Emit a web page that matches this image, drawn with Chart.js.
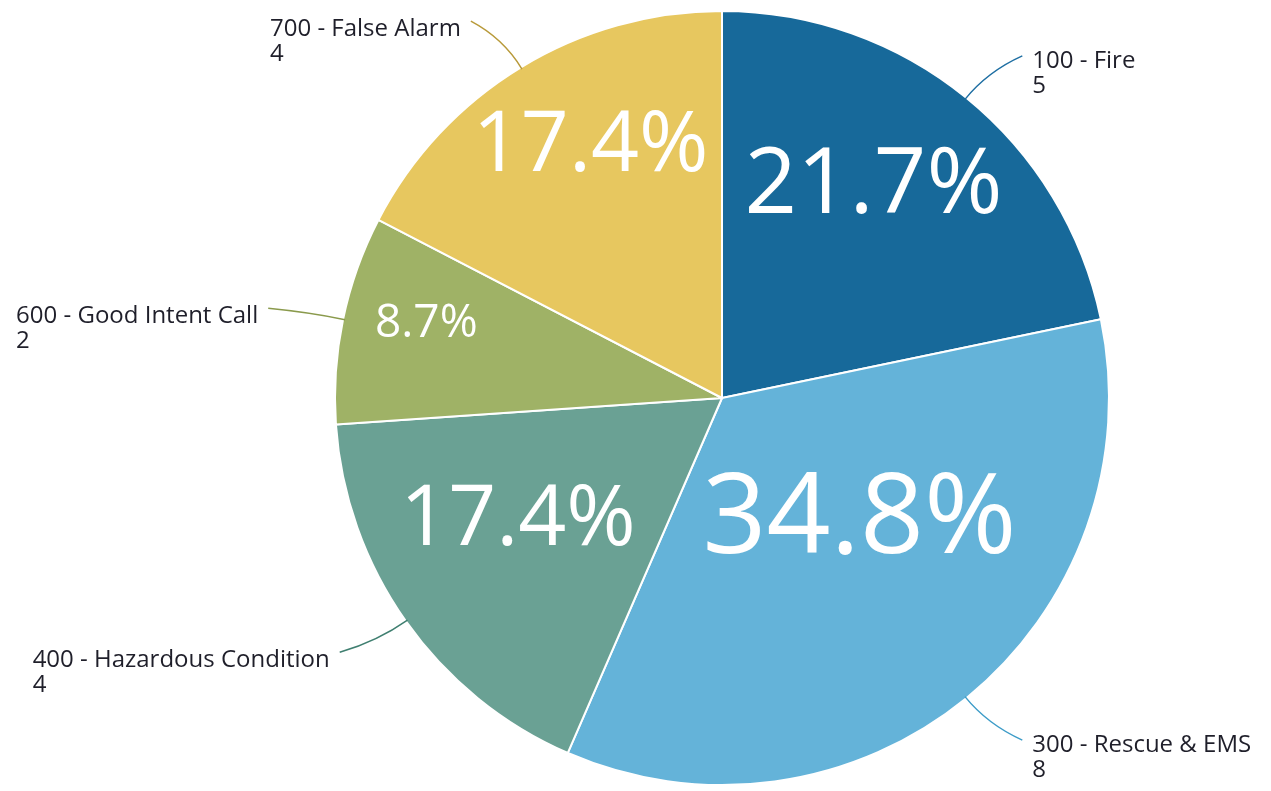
<!DOCTYPE html>
<html>
<head>
<meta charset="utf-8">
<script src="https://cdn.jsdelivr.net/npm/chart.js@4.4.0/dist/chart.umd.min.js"></script>
<style>
	html, body { margin: 0; padding: 0; background: #fff; }
	#wrap { width: 1271px; height: 791px; position: relative; }
</style>
</head>
<body>
<div id="wrap"><canvas id="incidents_pie"></canvas></div>
<script>
// incident types, clockwise from 12 o'clock
const categories = ['100 - Fire', '300 - Rescue & EMS', '400 - Hazardous Condition', '600 - Good Intent Call', '700 - False Alarm'];
const counts = [5, 8, 4, 2, 4];
const percentLabels = ['21.7%', '34.8%', '17.4%', '8.7%', '17.4%'];

const sliceColors = ['#17699a', '#64b3d9', '#6aa194', '#9fb266', '#e7c75f'];
const lineColors = ['#1f6fa3', '#3d9cc8', '#3f7f70', '#8a9a4c', '#b89a3a'];

// look of the big white percentages inside the slices
const pctFont = [92, 112, 84, 46, 84];
const pctRadius = [0.68, 0.47, 0.61, 0.79, 0.74];
const pctShift = [-4, -10, 5, 3, 4]; // degrees

const sliceLabels = {
	id: 'sliceLabels',
	afterDatasetsDraw(chart) {
		const ctx = chart.ctx;
		const arcs = chart.getDatasetMeta(0).data;
		arcs.forEach((arc, i) => {
			const p = arc.getProps(['x', 'y', 'startAngle', 'endAngle', 'outerRadius']);
			const mid = (p.startAngle + p.endAngle) / 2;
			const r = p.outerRadius;

			// percentage
			const a = mid + pctShift[i] * Math.PI / 180;
			const px = p.x + Math.cos(a) * r * pctRadius[i];
			const py = p.y + Math.sin(a) * r * pctRadius[i] + 4;
			ctx.save();
			ctx.fillStyle = '#fff';
			ctx.font = pctFont[i] + 'px "Open Sans"';
			ctx.textAlign = 'center';
			ctx.textBaseline = 'middle';
			ctx.fillText(percentLabels[i], px, py);
			ctx.restore();

			// leader line
			const sx = p.x + Math.cos(mid) * (r - 2);
			const sy = p.y + Math.sin(mid) * (r - 2);
			const cx = p.x + Math.cos(mid) * (r + 34);
			const cy = p.y + Math.sin(mid) * (r + 34);
			const right = Math.cos(mid) >= 0;
			const ex = p.x + Math.cos(mid) * (r + 54) + (right ? 22 : -22);
			const ey = p.y + Math.sin(mid) * (r + 54);
			ctx.save();
			ctx.strokeStyle = lineColors[i];
			ctx.lineWidth = 1.5;
			ctx.beginPath();
			ctx.moveTo(sx, sy);
			ctx.quadraticCurveTo(cx, cy, ex, ey);
			ctx.stroke();
			ctx.restore();

			// category text
			ctx.save();
			ctx.fillStyle = '#1f1f2a';
			ctx.font = '24px "Open Sans"';
			ctx.textBaseline = 'middle';
			ctx.textAlign = 'left';
			const w = ctx.measureText(categories[i]).width;
			const tx = right ? ex + 10 : ex - 10 - w;
			const ty = ey + (right ? 5 : 8);
			ctx.fillText(categories[i], tx, ty);
			ctx.fillText(String(counts[i]), tx, ty + 25);
			ctx.restore();
		});
	}
};

const canvas = document.getElementById('incidents_pie');
const ctx = canvas.getContext('2d');

const myChart = new Chart(ctx, {
	type: 'pie',
	data: {
		labels: categories,
		datasets: [{
			data: counts,
			backgroundColor: sliceColors,
			borderColor: '#ffffff',
			borderWidth: 2
		}]
	},
	options: {
		responsive: true,
		maintainAspectRatio: false,
		animation: false,
		layout: {
			padding: { left: 334, right: 161, top: 10, bottom: 5 }
		},
		plugins: {
			legend: { display: false },
			tooltip: { enabled: false }
		}
	},
	plugins: [sliceLabels]
});
</script>
</body>
</html>
